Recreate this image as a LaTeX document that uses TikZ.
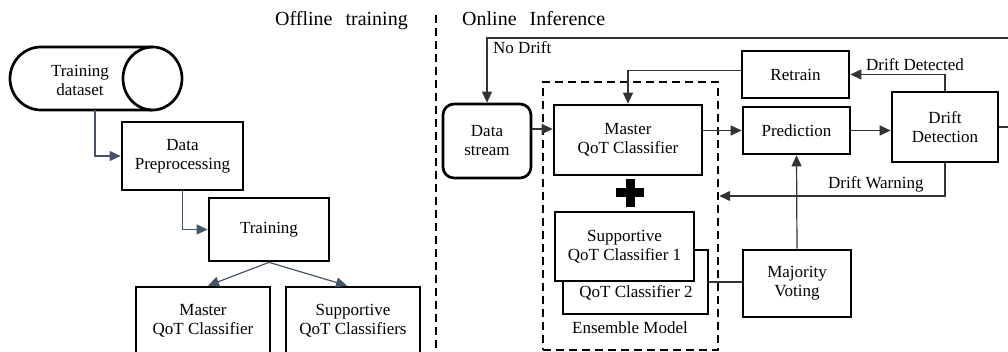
\documentclass[tikz,border=0pt]{standalone}
\usepackage{fontspec}
\setmainfont{Liberation Serif}
\usetikzlibrary{arrows.meta,calc}
\definecolor{slate}{RGB}{68,84,106}
\begin{document}
\begin{tikzpicture}[x=1pt,y=-1pt,
  box/.style={draw=black,line width=2.7pt,fill=white,inner sep=0pt,align=center,font=\fontsize{17}{19}\selectfont},
  txt/.style={inner sep=0pt,font=\fontsize{17}{19}\selectfont,align=center},
  conn/.style={draw=black!80,line width=1.2pt},
  arr/.style={conn,-{Triangle[length=11pt,width=10pt]}},
  larr/.style={draw=slate,line width=1.2pt,-{Triangle[length=11pt,width=10pt]}},
  dsh/.style={draw=black,line width=2.4pt,dash pattern=on 8pt off 5pt},
  head/.style={inner sep=0pt,font=\fontsize{20}{24}\selectfont}]
\useasboundingbox (0,0) rectangle (1008,352);
\clip (0,0) rectangle (1008,352);

% headings and divider
\node[head,anchor=base west] (hoff) at (275,26) {Offline\hspace{8pt} training};
\node[head,anchor=base west] (hon) at (462,26) {Online\hspace{8pt} Inference};
\draw[dsh,line width=2.2pt] (436,15) -- (436,352);

% ---------- offline ----------
\draw[line width=2.7pt] (152.5,47) -- (41,47) arc[start angle=270,end angle=90,x radius=31,y radius=31.5] -- (152.5,110);
\draw[line width=2.7pt] (152.5,78.5) ellipse[x radius=29.5,y radius=31.5];
\node[minimum width=172pt,minimum height=63pt,inner sep=0pt] (cyl) at (96,78.5) {};
\node[txt] (tdt) at (80,80) {Training\\dataset};

\node[box,minimum width=121pt,minimum height=68pt] (dp) at (182.5,156) {Data\\Preprocessing};
\node[box,minimum width=120pt,minimum height=63pt] (tr) at (269,229.5) {Training};
\node[box,minimum width=134pt,minimum height=68pt] (mq1) at (203,321) {Master\\QoT Classifier};
\node[box,minimum width=134pt,minimum height=68pt] (sq1) at (353,321) {Supportive\\QoT Classifiers};

\draw[larr] ([xshift=-1pt]cyl.south) |- (dp.west);
\draw[larr] (dp.south) |- (tr.west);
\draw[larr] (tr.south) -- ([xshift=5pt]mq1.north);
\draw[larr] (tr.south) -- ([xshift=-6pt]sq1.north);

% ---------- online ----------
\node[dsh,minimum width=175pt,minimum height=268pt,inner sep=0pt] (ens) at (630.5,216) {};
\node[box,rounded corners=11pt,minimum width=88pt,minimum height=74pt] (ds) at (487,141) {Data\\stream};
\node[box,minimum width=148pt,minimum height=70pt] (mq2) at (628,140) {Master\\QoT Classifier};
\fill[black] (616,188.5) rectangle (644,197.5);
\fill[black] (625.5,179) rectangle (634.5,207);
\node[box,minimum width=145pt,minimum height=64pt] (sq2b) at (635.5,282) {};
\node[txt,anchor=base] (sq2bt) at (636,298) {QoT Classifier 2};
\node[box,minimum width=139pt,minimum height=69pt] (sq2a) at (624.5,246.5) {Supportive\\QoT Classifier 1};
\node[txt,anchor=base] (enst) at (630,333) {Ensemble Model};

\node[box,minimum width=108pt,minimum height=67pt] (mv) at (797,283.5) {Majority\\Voting};
\node[box,minimum width=107pt,minimum height=47pt] (pr) at (796.5,130.5) {Prediction};
\node[box,minimum width=106pt,minimum height=70pt] (dd) at (945,127) {Drift\\Detection};
\node[box,minimum width=107pt,minimum height=47pt] (rt) at (795.5,74.5) {Retrain};

\coordinate (r1) at (0,129);
\coordinate (dwy) at (0,196);
\coordinate (ndc) at (1025,38);

\draw[arr] (ds.east |- r1) -- (mq2.west |- r1);
\draw[arr] (mq2.east |- pr.west) -- (pr.west);
\draw[arr] (pr.east) -- (pr.east -| dd.west);
\draw[arr] ([yshift=4pt]rt.west) -| (mq2.north);
\draw[arr] (dd.north) |- (rt.east);
\draw[arr] (dd.south) |- (ens.east |- dwy);
\draw[arr] (mv.north) -- (pr.south);
\draw[conn] (sq2b.east) -- (sq2b.east -| mv.west);
\draw[arr] (dd.east) -| (ndc) -| (ds.north);

\node[txt,anchor=base west] (ndl) at (493,54) {No Drift};
\node[txt,anchor=base west] (ddl) at (866,71) {Drift Detected};
\node[txt,anchor=base west] (dwl) at (828,189) {Drift Warning};
\end{tikzpicture}
\end{document}
